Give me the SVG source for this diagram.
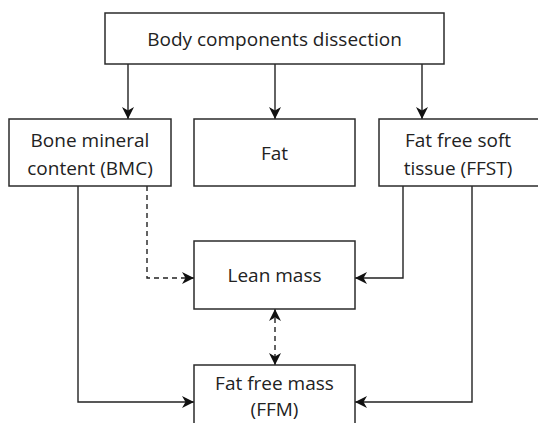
<svg xmlns="http://www.w3.org/2000/svg" width="538" height="423" viewBox="0 0 538 423">
<style>
.box{fill:#fff;stroke:#2b2b2b;stroke-width:1.5}
.t{font-family:"Open Sans","Noto Sans",sans-serif;font-size:19px;fill:#222;text-anchor:middle}
.ln{fill:none;stroke:#222;stroke-width:1.4}
.ds{stroke-dasharray:5 4}
</style>
<defs>
<marker id="ah" viewBox="0 0 12 12" refX="12" refY="6" markerWidth="12" markerHeight="12" markerUnits="userSpaceOnUse" orient="auto-start-reverse">
<path d="M0,0 L12,6 L0,12 L3.5,6 Z" fill="#111"/>
</marker>
</defs>
<rect width="538" height="423" fill="#fff"/>
<g id="connectors">
<line class="ln" x1="128" y1="64" x2="128" y2="119" marker-end="url(#ah)"/>
<line class="ln" x1="275" y1="64" x2="275" y2="119" marker-end="url(#ah)"/>
<line class="ln" x1="422" y1="64" x2="422" y2="119" marker-end="url(#ah)"/>
<polyline class="ln ds" points="147,186 147,278 194,278" marker-end="url(#ah)"/>
<polyline class="ln" points="403,186 403,278 355,278" marker-end="url(#ah)"/>
<polyline class="ln" points="78,186 78,402 194,402" marker-end="url(#ah)"/>
<polyline class="ln" points="472,186 472,402 355,402" marker-end="url(#ah)"/>
<line class="ln ds" x1="275" y1="309" x2="275" y2="365" marker-start="url(#ah)" marker-end="url(#ah)"/>
</g>
<g id="body">
<rect class="box" x="105" y="13" width="339" height="51"/>
<text class="t" x="274.5" y="46">Body components dissection</text>
</g>
<g id="bmc">
<rect class="box" x="9" y="119" width="162" height="67"/>
<text class="t" x="90" y="147">Bone mineral</text>
<text class="t" x="90" y="175">content (BMC)</text>
</g>
<g id="fat">
<rect class="box" x="194" y="119" width="161" height="67"/>
<text class="t" x="274.5" y="160">Fat</text>
</g>
<g id="ffst">
<rect class="box" x="379" y="119" width="162" height="67"/>
<text class="t" x="458" y="147">Fat free soft</text>
<text class="t" x="458" y="175">tissue (FFST)</text>
</g>
<g id="lean">
<rect class="box" x="194" y="241" width="161" height="68"/>
<text class="t" x="274.5" y="282">Lean mass</text>
</g>
<g id="ffm">
<rect class="box" x="194" y="365" width="161" height="70"/>
<text class="t" x="274.5" y="390">Fat free mass</text>
<text class="t" x="274.5" y="416">(FFM)</text>
</g>
</svg>
